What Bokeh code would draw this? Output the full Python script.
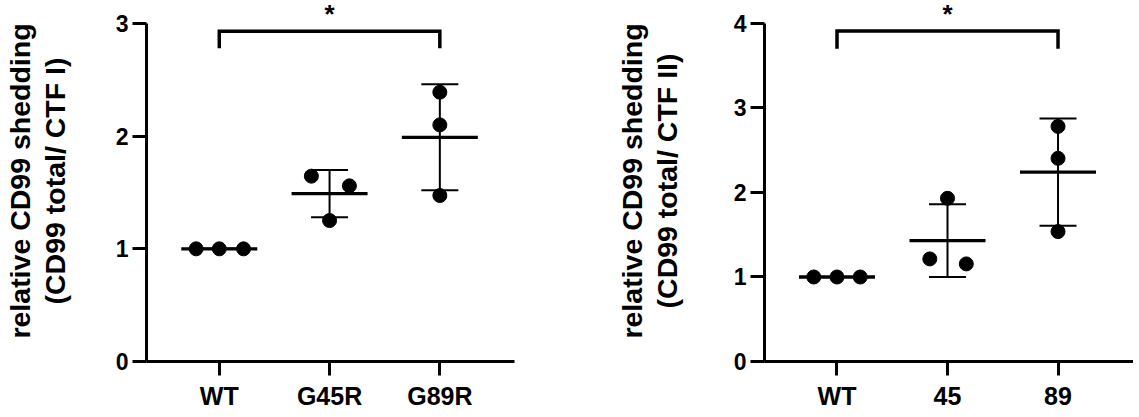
import numpy as np
from bokeh.plotting import figure
from bokeh.layouts import row
from bokeh.models import FixedTicker, Range1d
from bokeh.core.properties import value
from bokeh.embed import file_html
from bokeh.resources import INLINE

# ---------------- data: panel 1 ----------------
cats_1 = ["WT", "G45R", "G89R"]
points_1 = [[1.00, 1.00, 1.00], [1.645, 1.559, 1.251], [2.39, 2.10, 1.473]]
jitter_1 = [[-0.21, 0.0, 0.22], [-0.165, 0.18, 0.0], [0.0, 0.0, 0.0]]
mean_1 = [1.00, 1.49, 1.99]
sd_1 = [0.00, 0.21, 0.47]
yticks_1 = [0, 1, 2, 3]
sig_1 = {"from": 0, "to": 2, "top": 2.93, "leg": 2.78, "star": 3.08, "text": "*"}
ylabel_1 = "relative CD99 shedding\n(CD99 total/ CTF I)"

# ---------------- data: panel 2 ----------------
cats_2 = ["WT", "45", "89"]
points_2 = [[1.00, 1.00, 1.00], [1.931, 1.214, 1.155], [2.782, 2.404, 1.537]]
jitter_2 = [[-0.21, 0.0, 0.21], [0.0, -0.16, 0.17], [0.0, 0.0, 0.0]]
mean_2 = [1.00, 1.43, 2.24]
sd_2 = [0.00, 0.43, 0.635]
yticks_2 = [0, 1, 2, 3, 4]
sig_2 = {"from": 0, "to": 2, "top": 3.91, "leg": 3.70, "star": 4.107, "text": "*"}
ylabel_2 = "relative CD99 shedding\n(CD99 total/ CTF II)"

FONT = "Liberation Sans"


def make_panel(cats, points, jitter, mean, sd, yticks, sig, ylabel,
               width, border_left, border_right, xr, ytop, title_standoff):
    p = figure(width=width, height=413, output_backend="svg", toolbar_location=None,
               x_range=Range1d(*xr), y_range=Range1d(yticks[0], ytop),
               min_border_left=border_left, min_border_right=border_right,
               min_border_top=0, min_border_bottom=52)
    p.outline_line_color = None
    p.xgrid.visible = False
    p.ygrid.visible = False
    p.background_fill_color = "white"

    xs, ys = [], []
    for i, (vals, jit) in enumerate(zip(points, jitter)):
        for v, j in zip(vals, jit):
            xs.append(i + j)
            ys.append(v)
    p.scatter(xs, ys, size=14, marker="circle", fill_color="black", line_color="black")

    idx = list(range(len(cats)))
    lo = [m - s for m, s in zip(mean, sd)]
    hi = [m + s for m, s in zip(mean, sd)]
    p.segment(x0=idx, y0=lo, x1=idx, y1=hi, line_color="black", line_width=2)
    p.scatter(idx, lo, marker="dash", size=37, line_color="black", line_width=2)
    p.scatter(idx, hi, marker="dash", size=37, line_color="black", line_width=2)
    p.scatter(idx, mean, marker="dash", size=76, line_color="black", line_width=3.3)

    p.line([sig["from"], sig["from"], sig["to"], sig["to"]],
           [sig["leg"], sig["top"], sig["top"], sig["leg"]],
           line_color="black", line_width=3.5, line_join="miter")
    p.text(x=[(sig["from"] + sig["to"]) / 2], y=[sig["star"]], text=[sig["text"]],
           text_align="center", text_baseline="middle",
           text_font=value(FONT), text_font_style="bold", text_font_size="26px",
           text_color="black")

    # axes
    p.xaxis.ticker = FixedTicker(ticks=idx)
    p.xaxis.major_label_overrides = {i: c for i, c in enumerate(cats)}
    p.yaxis.ticker = FixedTicker(ticks=yticks)
    p.yaxis.bounds = (yticks[0], yticks[-1])
    for ax in (p.xaxis, p.yaxis):
        ax.axis_line_width = 3
        ax.axis_line_color = "black"
        ax.major_tick_line_width = 3
        ax.major_tick_line_color = "black"
        ax.major_tick_out = 14
        ax.major_tick_in = 0
        ax.minor_tick_line_color = None
        ax.major_label_text_font = FONT
        ax.major_label_text_font_style = "bold"
        ax.major_label_text_color = "black"
    p.xaxis.major_label_text_font_size = "25px"
    p.xaxis.major_label_standoff = 6
    p.yaxis.major_label_text_font_size = "23px"
    p.yaxis.major_label_standoff = 4
    p.yaxis.axis_label = ylabel
    p.yaxis.axis_label_text_font = FONT
    p.yaxis.axis_label_text_font_style = "bold"
    p.yaxis.axis_label_text_font_size = "28.5px"
    p.yaxis.axis_label_text_line_height = 1.1
    p.yaxis.axis_label_text_color = "black"
    p.yaxis.axis_label_standoff = title_standoff
    return p


p1 = make_panel(cats_1, points_1, jitter_1, mean_1, sd_1, yticks_1, sig_1, ylabel_1,
                570, 146, 56, (-0.66, 2.677), 3.204, 42)
p2 = make_panel(cats_2, points_2, jitter_2, mean_2, sd_2, yticks_2, sig_2, ylabel_2,
                563, 194, 0, (-0.656, 2.683), 4.272, 48)

layout = row(p1, p2)
open("out.html", "w").write(file_html(layout, INLINE))
